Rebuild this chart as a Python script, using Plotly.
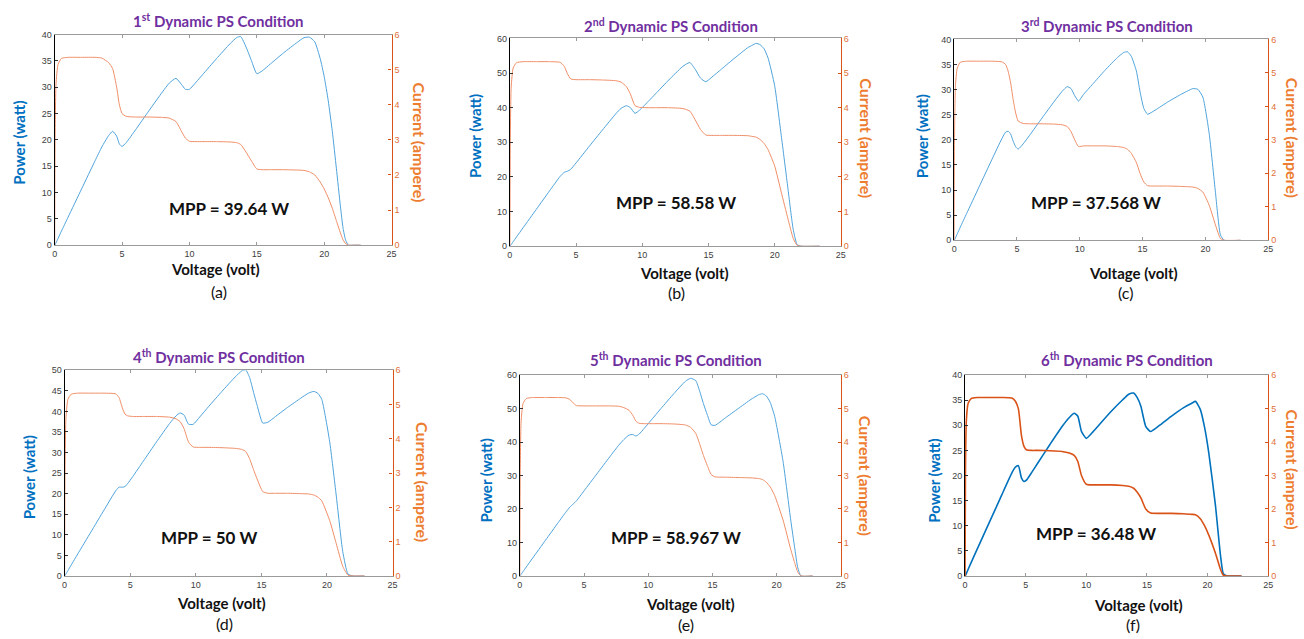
import plotly.graph_objects as go

# ---------------- data ----------------
V_A = [0, 0.03, 0.1, 0.25, 0.5, 1, 2, 3, 3.5, 4.0, 4.3, 4.6, 4.8, 5.0, 5.3, 6, 7, 8, 8.5, 9.0, 9.4, 9.7, 10, 10.5, 11, 12, 13, 13.5, 13.8, 14.2, 14.6, 15.0, 15.4, 16, 17, 18, 18.5, 18.9, 19.3, 19.7, 20.0, 20.3, 20.6, 20.9, 21.2, 21.4, 21.6, 21.8, 22.2, 22.7]
I_A = [0, 3.0, 4.6, 5.15, 5.32, 5.35, 5.35, 5.35, 5.33, 5.2, 5.03, 4.5, 4.0, 3.75, 3.67, 3.65, 3.65, 3.64, 3.62, 3.52, 3.25, 3.05, 2.96, 2.95, 2.95, 2.95, 2.94, 2.92, 2.87, 2.65, 2.4, 2.17, 2.15, 2.15, 2.15, 2.14, 2.13, 2.09, 2.0, 1.8, 1.6, 1.35, 1.05, 0.7, 0.35, 0.15, 0.04, 0, 0, 0]
P_A = [0, 0.09, 0.46, 1.29, 2.66, 5.35, 10.7, 16.05, 18.66, 20.8, 21.63, 20.7, 19.2, 18.75, 19.45, 21.9, 25.55, 29.12, 30.77, 31.68, 30.55, 29.59, 29.6, 30.98, 32.45, 35.4, 38.22, 39.42, 39.61, 37.63, 35.04, 32.55, 33.1, 34.4, 36.55, 38.52, 39.4, 39.5, 38.6, 35.46, 32.0, 27.4, 21.63, 14.63, 7.42, 3.21, 0.86, 0, 0, 0]

V_B = [0, 0.03, 0.1, 0.25, 0.5, 1, 2, 3, 3.8, 4.1, 4.35, 4.6, 5, 6, 7, 8, 8.4, 8.8, 9.1, 9.45, 9.8, 10.5, 11, 12, 13, 13.3, 13.6, 14.0, 14.4, 14.8, 15.2, 16, 17, 18, 18.3, 18.6, 18.9, 19.2, 19.5, 20.0, 20.5, 21.0, 21.4, 21.7, 22.0, 23.4]
I_B = [0, 3.0, 4.6, 5.15, 5.3, 5.33, 5.33, 5.33, 5.31, 5.2, 4.98, 4.83, 4.81, 4.81, 4.8, 4.78, 4.74, 4.61, 4.4, 4.06, 4.01, 4.0, 4.0, 4.0, 3.98, 3.95, 3.9, 3.65, 3.37, 3.21, 3.2, 3.2, 3.2, 3.19, 3.17, 3.15, 3.08, 2.97, 2.79, 2.32, 1.56, 0.8, 0.23, 0.02, 0, 0]
P_B = [0, 0.09, 0.46, 1.29, 2.65, 5.33, 10.66, 15.99, 20.18, 21.32, 21.66, 22.22, 24.05, 28.86, 33.6, 38.24, 39.82, 40.57, 40.04, 38.37, 39.3, 42.0, 44.0, 48.0, 51.74, 52.54, 53.04, 51.1, 48.53, 47.51, 48.64, 51.2, 54.4, 57.42, 58.01, 58.59, 58.21, 57.02, 54.4, 46.4, 31.98, 16.8, 4.92, 0.43, 0, 0]

V_C = [0, 0.03, 0.1, 0.25, 0.5, 1, 2, 3, 3.8, 4.1, 4.3, 4.5, 4.7, 4.9, 5.1, 5.5, 6, 7, 8, 8.6, 9.0, 9.3, 9.6, 9.9, 10.3, 11, 12, 13, 13.5, 13.8, 14.1, 14.5, 14.8, 15.1, 15.4, 16, 17, 18, 18.6, 19.0, 19.4, 19.8, 20.3, 20.8, 21.2, 21.5, 22.8]
I_C = [0, 3.0, 4.6, 5.15, 5.32, 5.35, 5.35, 5.35, 5.33, 5.25, 5.05, 4.7, 4.2, 3.8, 3.56, 3.49, 3.48, 3.48, 3.47, 3.45, 3.4, 3.25, 3.0, 2.8, 2.82, 2.82, 2.82, 2.8, 2.77, 2.72, 2.6, 2.33, 2.0, 1.74, 1.63, 1.62, 1.62, 1.61, 1.6, 1.59, 1.55, 1.44, 1.05, 0.46, 0.05, 0, 0]
P_C = [0, 0.09, 0.46, 1.29, 2.66, 5.35, 10.7, 16.05, 20.25, 21.53, 21.72, 21.15, 19.74, 18.62, 18.16, 19.2, 20.88, 24.36, 27.76, 29.67, 30.6, 30.23, 28.8, 27.72, 29.05, 31.02, 33.84, 36.4, 37.4, 37.54, 36.66, 33.79, 29.6, 26.27, 25.1, 25.92, 27.54, 28.98, 29.76, 30.21, 30.07, 28.51, 21.32, 9.57, 1.06, 0, 0]

V_D = [0, 0.03, 0.1, 0.25, 0.5, 1, 2, 3, 3.9, 4.15, 4.4, 4.6, 4.8, 5.2, 6, 7, 8, 8.5, 8.8, 9.1, 9.45, 9.8, 10.3, 11, 12, 13, 13.5, 13.8, 14.1, 14.4, 14.7, 15.1, 15.5, 16, 17, 18, 18.6, 19.0, 19.3, 19.6, 20.2, 20.7, 21.2, 21.6, 22.0, 22.85]
I_D = [0, 3.0, 4.6, 5.15, 5.3, 5.33, 5.33, 5.33, 5.31, 5.2, 4.9, 4.72, 4.67, 4.65, 4.65, 4.65, 4.63, 4.58, 4.5, 4.3, 3.9, 3.76, 3.75, 3.75, 3.74, 3.72, 3.69, 3.63, 3.42, 3.1, 2.8, 2.46, 2.41, 2.41, 2.41, 2.4, 2.39, 2.36, 2.3, 2.19, 1.62, 0.95, 0.28, 0.02, 0, 0]
P_D = [0, 0.09, 0.46, 1.29, 2.65, 5.33, 10.66, 15.99, 20.71, 21.58, 21.56, 21.71, 22.42, 24.18, 27.9, 32.55, 37.04, 38.93, 39.6, 39.13, 36.86, 36.85, 38.63, 41.25, 44.88, 48.36, 49.82, 50.09, 48.22, 44.64, 41.16, 37.15, 37.36, 38.56, 40.97, 43.2, 44.45, 44.84, 44.39, 42.92, 32.72, 19.67, 5.94, 0.43, 0, 0]

V_E = [0, 0.03, 0.1, 0.25, 0.5, 1, 2, 3, 3.6, 3.9, 4.15, 4.4, 5, 6, 7, 7.7, 8.1, 8.5, 8.8, 9.05, 9.3, 9.7, 10.5, 11, 12, 12.9, 13.3, 13.7, 14.0, 14.3, 14.6, 14.9, 15.2, 16, 17, 18, 18.6, 18.9, 19.2, 19.5, 19.85, 20.5, 21.1, 21.4, 21.65, 21.9, 22.8]
I_E = [0, 3.0, 4.6, 5.15, 5.3, 5.33, 5.33, 5.33, 5.32, 5.27, 5.17, 5.09, 5.08, 5.08, 5.08, 5.07, 5.03, 4.95, 4.8, 4.62, 4.56, 4.55, 4.55, 4.55, 4.54, 4.51, 4.44, 4.26, 3.95, 3.6, 3.3, 3.03, 2.96, 2.95, 2.94, 2.93, 2.91, 2.88, 2.8, 2.66, 2.4, 1.67, 0.79, 0.4, 0.11, 0, 0]
P_E = [0, 0.09, 0.46, 1.29, 2.65, 5.33, 10.66, 15.99, 19.15, 20.55, 21.46, 22.4, 25.4, 30.48, 35.56, 39.04, 40.74, 42.08, 42.24, 41.81, 42.41, 44.14, 47.78, 50.05, 54.48, 58.18, 59.05, 58.36, 55.3, 51.48, 48.18, 45.15, 44.99, 47.2, 49.98, 52.74, 54.13, 54.43, 53.76, 51.87, 47.64, 34.24, 16.67, 8.56, 2.38, 0, 0]

V_F = [0, 0.03, 0.1, 0.25, 0.5, 1, 2, 3, 3.9, 4.15, 4.4, 4.65, 4.85, 5.06, 5.5, 6, 7, 8, 8.6, 9.0, 9.3, 9.6, 10.0, 10.5, 11, 12, 13, 13.5, 13.9, 14.2, 14.5, 14.9, 15.3, 16, 17, 18, 18.7, 19.0, 19.4, 19.75, 20.1, 20.65, 21.06, 21.3, 21.6, 22.8]
I_F = [0, 3.0, 4.6, 5.15, 5.3, 5.33, 5.33, 5.33, 5.31, 5.22, 4.99, 4.2, 3.88, 3.77, 3.75, 3.75, 3.74, 3.72, 3.67, 3.6, 3.42, 3.0, 2.74, 2.72, 2.72, 2.72, 2.7, 2.68, 2.62, 2.5, 2.33, 2.0, 1.88, 1.87, 1.87, 1.86, 1.84, 1.83, 1.71, 1.5, 1.22, 0.68, 0.2, 0.02, 0, 0]
P_F = [0, 0.09, 0.46, 1.29, 2.65, 5.33, 10.66, 15.99, 20.71, 21.66, 21.96, 19.53, 18.82, 19.08, 20.63, 22.5, 26.18, 29.76, 31.56, 32.4, 31.81, 28.8, 27.4, 28.56, 29.92, 32.64, 35.1, 36.18, 36.42, 35.5, 33.79, 29.8, 28.76, 29.92, 31.79, 33.48, 34.41, 34.77, 33.17, 29.63, 24.52, 14.04, 4.21, 0.43, 0, 0]

TITLES = ["1<sup>st</sup> Dynamic PS Condition", "2<sup>nd</sup> Dynamic PS Condition",
          "3<sup>rd</sup> Dynamic PS Condition", "4<sup>th</sup> Dynamic PS Condition",
          "5<sup>th</sup> Dynamic PS Condition", "6<sup>th</sup> Dynamic PS Condition"]
MPP_LABELS = ["MPP = 39.64 W", "MPP = 58.58 W", "MPP = 37.568 W",
              "MPP = 50 W", "MPP = 58.967 W", "MPP = 36.48 W"]
SUB_LABELS = ["(a)", "(b)", "(c)", "(d)", "(e)", "(f)"]
POWER_MAX = [40, 60, 40, 50, 60, 40]
POWER_DTICK = [5, 10, 5, 5, 10, 5]
VOLTAGES = [V_A, V_B, V_C, V_D, V_E, V_F]
POWERS = [P_A, P_B, P_C, P_D, P_E, P_F]
CURRENTS = [I_A, I_B, I_C, I_D, I_E, I_F]

# ---------------- layout geometry (pixels) ----------------
W, H = 1304, 639
BOXES = [(52, 391, 30, 244), (510, 843, 34, 245), (957, 1273, 35, 239),
         (62, 392, 371, 580), (520, 843, 376, 580), (968, 1273, 376, 580)]
# (title, power label, current label, voltage label, sub label, mpp)
TEXT_POS = [
    [(217, 16), (16, 140), (419, 140), (214, 268), (217, 291), (227, 207)],
    [(672, 21), (475, 133), (868, 135), (686, 272), (678, 292), (677, 201)],
    [(1111, 21), (925, 133), (1297, 135), (1137, 272), (1129, 292), (1100, 201)],
    [(217, 357), (27, 480), (422, 485), (220, 607), (223, 628), (207, 541)],
    [(677, 360), (486, 483), (868, 478), (692, 609), (687, 629), (677, 541)],
    [(1131, 360), (937, 483), (1297, 472), (1143, 610), (1137, 629), (1100, 537)],
]

FONT = "Lato, Open Sans, Arial, sans-serif"
TICK_FONT = "Liberation Sans, Arial, sans-serif"


def fx(x):
    return x / W


def fy(y):
    return 1 - y / H


fig = go.Figure()
layout = {}
annotations = []

for k in range(6):
    xn = "x" if k == 0 else f"x{k + 1}"
    yl = f"y{2 * k + 1}" if k > 0 else "y"
    yr = f"y{2 * k + 2}"
    thick = (k == 5)
    pcol = "#0072BD" if thick else "#4FA3DB"
    ccol = "#D95319" if thick else "#EF8D66"
    lw = 1.6 if thick else 1.0

    fig.add_trace(go.Scatter(x=VOLTAGES[k], y=CURRENTS[k], xaxis=xn, yaxis=yr, mode="lines",
                             line=dict(color=ccol, width=lw, shape="spline", smoothing=0.5),
                             showlegend=False, hoverinfo="skip"))
    fig.add_trace(go.Scatter(x=VOLTAGES[k], y=POWERS[k], xaxis=xn, yaxis=yl, mode="lines",
                             line=dict(color=pcol, width=lw, shape="spline", smoothing=0.5),
                             showlegend=False, hoverinfo="skip"))

    x0, x1, y0, y1 = BOXES[k]
    xkey = "xaxis" if k == 0 else f"xaxis{k + 1}"
    ylkey = "yaxis" if k == 0 else f"yaxis{2 * k + 1}"
    yrkey = f"yaxis{2 * k + 2}"

    layout[xkey] = dict(domain=[fx(x0), fx(x1)], anchor=yl, range=[0, 25], dtick=5,
                        showline=True, linecolor="#9a9a9a", linewidth=1, mirror="ticks",
                        ticks="inside", ticklen=3, tickcolor="#9a9a9a",
                        showgrid=False, zeroline=False,
                        tickfont=dict(family=TICK_FONT, size=9, color="#404040"))
    layout[ylkey] = dict(domain=[fy(y1), fy(y0)], anchor=xn, range=[0, POWER_MAX[k]],
                         dtick=POWER_DTICK[k], showline=True, linecolor="#000000", linewidth=1,
                         ticks="inside", ticklen=3, tickcolor="#333333",
                         showgrid=False, zeroline=False,
                         tickfont=dict(family=TICK_FONT, size=9, color="#404040"))
    layout[yrkey] = dict(overlaying=yl, side="right", anchor=xn, range=[0, 6], dtick=1,
                         showline=True, linecolor="#D95319", linewidth=1.3,
                         ticks="inside", ticklen=3, tickcolor="#D95319",
                         showgrid=False, zeroline=False,
                         tickfont=dict(family=TICK_FONT, size=9, color="#E0703A"))

    tp = TEXT_POS[k]
    annotations += [
        dict(text=f"<b>{TITLES[k]}</b>", x=fx(tp[0][0]), y=fy(tp[0][1]),
             font=dict(family=FONT, size=15, color="#7030A0")),
        dict(text="<b>Power (watt)</b>", x=fx(tp[1][0]), y=fy(tp[1][1]), textangle=-90,
             font=dict(family=FONT, size=15, color="#0070C0")),
        dict(text="<b>Current (ampere)</b>", x=fx(tp[2][0]), y=fy(tp[2][1]), textangle=90,
             font=dict(family=FONT, size=16, color="#ED7D31")),
        dict(text="<b>Voltage (volt)</b>", x=fx(tp[3][0]), y=fy(tp[3][1]),
             font=dict(family=FONT, size=15, color="#111111")),
        dict(text=SUB_LABELS[k], x=fx(tp[4][0]), y=fy(tp[4][1]),
             font=dict(family=FONT, size=16, color="#111111")),
        dict(text=f"<b>{MPP_LABELS[k]}</b>", x=fx(tp[5][0]), y=fy(tp[5][1]),
             font=dict(family=FONT, size=17, color="#111111")),
    ]

for a in annotations:
    a.update(xref="paper", yref="paper", xanchor="center", yanchor="middle", showarrow=False)

fig.update_layout(width=W, height=H, margin=dict(l=0, r=0, t=0, b=0),
                  paper_bgcolor="white", plot_bgcolor="white",
                  annotations=annotations, **layout)

fig.write_html("out.html", config={"displayModeBar": False},
               post_script="document.body.style.margin='0';document.body.style.overflow='hidden';")
